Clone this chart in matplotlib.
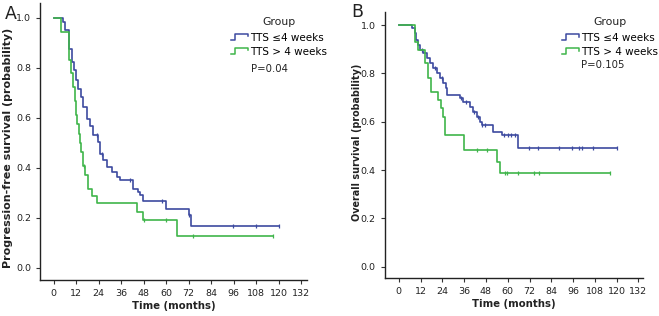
import matplotlib
matplotlib.use("Agg")
import matplotlib.pyplot as plt
from matplotlib.lines import Line2D

# panel A - progression-free survival
pfs_short_t = [0, 5.0, 5.9, 8.0, 9.8, 11.0, 12.1, 13.3, 14.6, 15.6, 17.8, 19.5, 21.3, 23.5,
               24.9, 26.6, 28.4, 31.1, 33.8, 35.5, 42.6, 44.8, 46.2, 47.6, 59.9, 72.0, 73.2, 120]
pfs_short_s = [1.0, 0.984, 0.95, 0.877, 0.824, 0.79, 0.75, 0.717, 0.684, 0.644, 0.597, 0.567,
               0.53, 0.504, 0.457, 0.43, 0.404, 0.384, 0.364, 0.35, 0.317, 0.304, 0.29, 0.268,
               0.235, 0.213, 0.168, 0.168]
pfs_short_cens = [23.0, 26.0, 41.0, 58.0, 72.3, 95.8, 108, 120]

pfs_long_t = [0, 4.1, 8.0, 8.5, 9.5, 10.5, 11.5, 12.0, 12.5, 13.5, 14.0, 14.5, 15.5, 17.0,
              18.5, 20.5, 23.0, 44.5, 47.5, 65.8, 117]
pfs_long_s = [1.0, 0.944, 0.889, 0.833, 0.778, 0.722, 0.667, 0.611, 0.574, 0.537, 0.5, 0.463,
              0.407, 0.37, 0.315, 0.287, 0.259, 0.222, 0.19, 0.126, 0.126]
pfs_long_cens = [16.0, 48.0, 60.0, 74.5, 117]

# panel B - overall survival
os_short_t = [0, 7.5, 8.8, 9.7, 10.7, 11.6, 13.4, 15.3, 17.1, 18.9, 20.8, 22.6, 24.4, 25.9,
              26.3, 33.6, 35.5, 39.2, 41.0, 42.8, 44.7, 45.6, 52.0, 56.6, 65.8, 120]
os_short_s = [1.0, 0.986, 0.966, 0.938, 0.917, 0.897, 0.883, 0.862, 0.841, 0.821, 0.8, 0.779,
              0.759, 0.738, 0.71, 0.697, 0.683, 0.662, 0.641, 0.621, 0.6, 0.586, 0.559, 0.545,
              0.49, 0.49]
os_short_cens = [12.5, 20.0, 24.0, 34.5, 37.0, 41.5, 43.5, 46.0, 47.5, 58.0, 60.0, 62.0, 64.0,
                 71.7, 76.7, 88.3, 95.4, 99.3, 101, 107, 120]

os_long_t = [0, 8.8, 10.7, 14.3, 16.2, 17.6, 21.7, 23.2, 24.4, 25.7, 36.0, 54.2, 55.7, 116.4]
os_long_s = [1.0, 0.931, 0.897, 0.841, 0.779, 0.724, 0.69, 0.655, 0.62, 0.545, 0.483, 0.434,
             0.386, 0.386]
os_long_cens = [42.8, 48.3, 58.5, 59.6, 65.6, 74.5, 77.2, 116.4]

x_ticks = list(range(0, 133, 12))
y_ticks = [0.0, 0.2, 0.4, 0.6, 0.8, 1.0]
group_labels = ["TTS \u22644 weeks", "TTS > 4 weeks"]

blue = "#3d4aa0"
green = "#3fb54a"
ink = "#222222"


class StepHandler:
    # little step glyph like the SPSS legend
    def legend_artist(self, legend, orig_handle, fontsize, handlebox):
        x0, y0 = handlebox.xdescent, handlebox.ydescent
        w, h = handlebox.width, handlebox.height
        xs = [x0, x0 + 0.2 * w, x0 + 0.2 * w, x0 + 0.95 * w, x0 + 0.95 * w]
        ys = [y0 + 0.1 * h, y0 + 0.1 * h, y0 + 0.95 * h, y0 + 0.95 * h, y0 + 0.6 * h]
        ln = Line2D(xs, ys, color=orig_handle.get_color(), lw=1.1,
                    transform=handlebox.get_transform())
        handlebox.add_artist(ln)
        return ln


def surv_at(times, surv, t):
    val = surv[0]
    for ti, si in zip(times, surv):
        if ti <= t:
            val = si
    return val


def km_panel(ax, curves, ylab, ylab_size, ylab_xy, pval, xlim, ylim, leg_xy, p_xy):
    for times, surv, cens, col in curves:
        ax.plot(times, surv, drawstyle="steps-post", color=col, lw=1.2)
        ax.plot(cens, [surv_at(times, surv, c) for c in cens], ls="none", marker="|",
                ms=3.5, mew=0.9, color=col)
    ax.set_xlim(*xlim)
    ax.set_ylim(*ylim)
    ax.set_xticks(x_ticks)
    ax.set_yticks(y_ticks)
    ax.set_yticklabels([f"{v:.1f}" for v in y_ticks])
    ax.spines["top"].set_visible(False)
    ax.spines["right"].set_visible(False)
    for s in ["left", "bottom"]:
        ax.spines[s].set_linewidth(1.0)
        ax.spines[s].set_color(ink)
    ax.tick_params(labelsize=6.8, length=3, width=0.8, colors="#333333", labelcolor=ink)
    ax.set_xlabel("Time (months)", fontsize=7.3, fontweight="bold", color=ink, labelpad=2)
    ax.set_ylabel(ylab, fontsize=ylab_size, fontweight="bold", color=ink)
    ax.yaxis.set_label_coords(*ylab_xy)
    handles = [Line2D([], [], color=blue), Line2D([], [], color=green)]
    leg = ax.legend(handles, group_labels, title="Group", loc="upper left",
                    bbox_to_anchor=leg_xy, frameon=False, fontsize=7.5, title_fontsize=7.8,
                    handlelength=1.75, handletextpad=0.1, borderpad=0, borderaxespad=0,
                    labelspacing=0.4, handler_map={Line2D: StepHandler()})
    leg.get_title().set_color(ink)
    leg._legend_box.sep = 4
    ax.text(p_xy[0], p_xy[1], pval, transform=ax.transAxes, fontsize=7.3, ha="center",
            va="center", color=ink)


fig = plt.figure(figsize=(6.59, 3.16), dpi=100)
axA = fig.add_axes([0.061, 0.114, 0.405, 0.876])
axB = fig.add_axes([0.584, 0.119, 0.392, 0.843])

km_panel(axA, [(pfs_short_t, pfs_short_s, pfs_short_cens, blue),
               (pfs_long_t, pfs_long_s, pfs_long_cens, green)],
         "Progression-free survival (probability)", 8.0, (-0.101, 0.477),
         "P=0.04", (-7.1, 135.2), (-0.049, 1.059), (0.715, 0.95), (0.858, 0.762))
km_panel(axB, [(os_short_t, os_short_s, os_short_cens, blue),
               (os_long_t, os_long_s, os_long_cens, green)],
         "Overall survival (probability)", 6.9, (-0.089, 0.511),
         "P=0.105", (-7.7, 134.6), (-0.048, 1.054), (0.686, 0.98), (0.845, 0.80))

fig.text(0.008, 0.94, "A", fontsize=12.5, color=ink)
fig.text(0.533, 0.945, "B", fontsize=12.5, color=ink)

fig.savefig("out.png", dpi=100, facecolor="white")
